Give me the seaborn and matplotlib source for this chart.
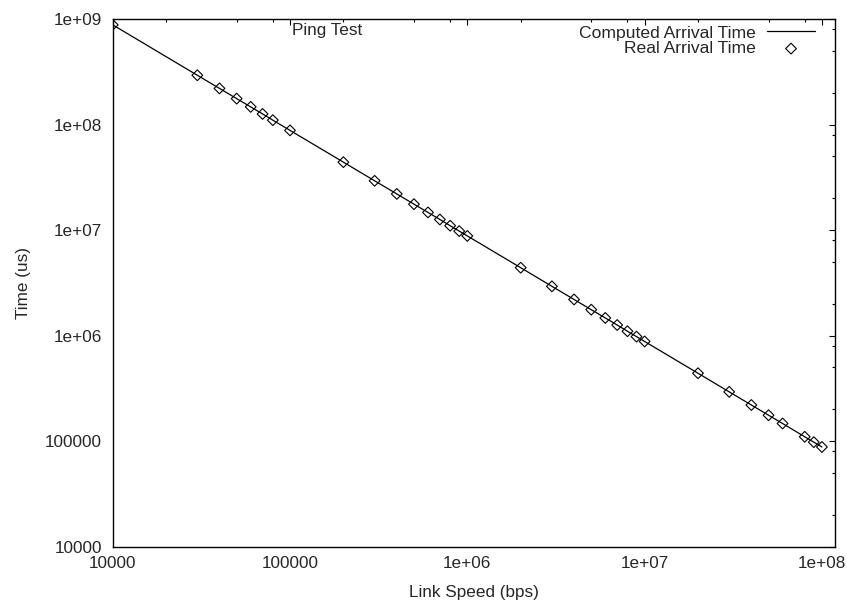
import matplotlib
matplotlib.use("Agg")
import matplotlib.pyplot as plt
import matplotlib.ticker as mticker
import pandas as pd
import seaborn as sns

# link speeds (bps) and arrival times (us)
link_speed_bps = [1e4, 3e4, 4e4, 5e4, 6e4, 7e4, 8e4, 1e5,
                  2e5, 3e5, 4e5, 5e5, 6e5, 7e5, 8e5, 9e5, 1e6,
                  2e6, 3e6, 4e6, 5e6, 6e6, 7e6, 8e6, 9e6, 1e7,
                  2e7, 3e7, 4e7, 5e7, 6e7, 8e7, 9e7, 1e8]

computed_us = [8.8e8, 2.93e8, 2.2e8, 1.76e8, 1.47e8, 1.26e8, 1.1e8, 8.8e7,
               4.4e7, 2.93e7, 2.2e7, 1.76e7, 1.47e7, 1.26e7, 1.1e7, 9.78e6, 8.8e6,
               4.4e6, 2.93e6, 2.2e6, 1.76e6, 1.47e6, 1.26e6, 1.1e6, 9.78e5, 8.8e5,
               4.4e5, 2.93e5, 2.2e5, 1.76e5, 1.47e5, 1.1e5, 9.78e4, 8.8e4]

real_us = [8.8e8, 2.93e8, 2.2e8, 1.76e8, 1.47e8, 1.26e8, 1.1e8, 8.8e7,
           4.4e7, 2.93e7, 2.2e7, 1.76e7, 1.47e7, 1.26e7, 1.1e7, 9.78e6, 8.8e6,
           4.4e6, 2.93e6, 2.2e6, 1.76e6, 1.47e6, 1.26e6, 1.1e6, 9.78e5, 8.8e5,
           4.4e5, 2.93e5, 2.2e5, 1.76e5, 1.47e5, 1.1e5, 9.78e4, 8.8e4]

df = pd.DataFrame({"speed": link_speed_bps,
                   "computed": computed_us,
                   "real": real_us})

sns.set_style("white")
plt.rcParams["font.family"] = ["Liberation Sans", "DejaVu Sans"]
plt.rcParams["font.size"] = 12.3

fig = plt.figure(figsize=(8.47, 6.05), dpi=100)
ax = fig.add_axes([0.1331, 0.0964, 0.8531, 0.8722])

sns.lineplot(data=df, x="speed", y="computed", ax=ax, color="black",
             linewidth=0.9, label="Computed Arrival Time", legend=False)
sns.scatterplot(data=df, x="speed", y="real", ax=ax, marker="D", s=30,
                facecolor="none", edgecolor="black", linewidth=0.8,
                label="Real Arrival Time", legend=False, zorder=3)

ax.set_xscale("log")
ax.set_yscale("log")
ax.set_xlim(1e4, 1.19e8)
ax.set_ylim(1e4, 1e9)

gfmt = mticker.FuncFormatter(lambda v, p: "%g" % v)
for axis in (ax.xaxis, ax.yaxis):
    axis.set_major_locator(mticker.LogLocator(base=10, numticks=20))
    axis.set_minor_locator(mticker.LogLocator(base=10, subs=[2, 5, 8], numticks=20))
    axis.set_major_formatter(gfmt)
    axis.set_minor_formatter(mticker.NullFormatter())

ax.tick_params(which="both", direction="in", top=True, right=True,
               color="black", width=0.8, labelsize=12.3)
ax.tick_params(which="major", length=4.5)
ax.tick_params(which="minor", length=2.4)
ax.tick_params(axis="y", pad=7.8)
ax.tick_params(axis="x", pad=7.0)

for sp in ax.spines.values():
    sp.set_color("black")
    sp.set_linewidth(1.0)

ax.set_xlabel("Link Speed (bps)", fontsize=12.3, labelpad=10)
ax.set_ylabel("Time (us)", fontsize=12.3, labelpad=10)

ax.text(0.2966, 0.979, "Ping Test", transform=ax.transAxes,
        ha="center", va="center", fontsize=12.3)

handles, labels = ax.get_legend_handles_labels()
ax.legend(handles, labels, loc="upper right", bbox_to_anchor=(0.972, 0.988),
          frameon=False, markerfirst=False, borderpad=0, borderaxespad=0,
          handlelength=2.75, handletextpad=0.66, labelspacing=0.02,
          fontsize=12.6)

fig.savefig("out.png", dpi=100)
